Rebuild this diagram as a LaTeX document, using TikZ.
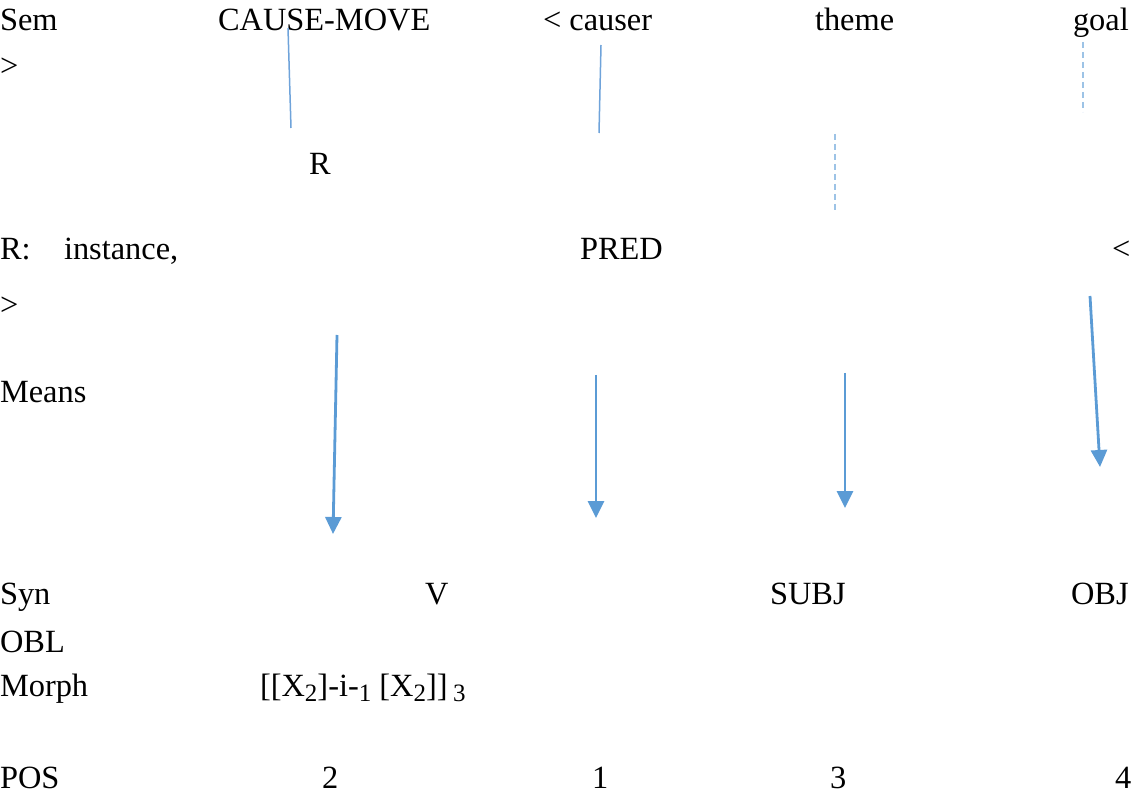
\documentclass[tikz,border=0pt]{standalone}
\usepackage{fontspec}
\setmainfont{Liberation Serif}
\usetikzlibrary{arrows.meta}
\definecolor{linkblue}{HTML}{5B9BD5}
\definecolor{thinblue}{HTML}{6FA3DA}
\definecolor{dashblue}{HTML}{9DC3E6}
\newcommand{\lowidx}[1]{\raisebox{-0.35ex}{\fontsize{12.5pt}{12.5pt}\selectfont #1}}
\begin{document}
\begin{tikzpicture}[x=0.5pt,y=-0.5pt,
  lbl/.style={anchor=base west,inner sep=0pt,outer sep=0pt,font=\fontsize{16.2pt}{19pt}\selectfont},
  thinlink/.style={draw=thinblue,line width=0.75pt},
  dashlink/.style={draw=dashblue,line width=0.9pt,dash pattern=on 3pt off 2pt},
  maparrow/.style={draw=linkblue,line width=1.4pt,-{Triangle[width=8pt,length=8.5pt]}}]
\useasboundingbox (0,0) rectangle (1140,812);

% Sem row
\node[lbl] (sem) at (0,31) {Sem};
\node[lbl] (cm) at (218,31) {CAUSE-MOVE};
\node[lbl] (causer) at (543,31) {< causer};
\node[lbl] (theme) at (815,31) {theme};
\node[lbl] (goal) at (1073,31) {goal};
\node[lbl] (gt1) at (0,77) {>};
\node[lbl] (rr) at (309,175) {R};

% R row
\node[lbl] (rlab) at (0,260) {R:};
\node[lbl] (inst) at (64,260) {instance,};
\node[lbl] (pred) at (580,260) {PRED};
\node[lbl] (lt2) at (1112,260) {<};
\node[lbl] (gt2) at (0,316) {>};
\node[lbl] (means) at (0,402) {Means};

% Syn row
\node[lbl] (syn) at (0,604) {Syn};
\node[lbl] (v) at (425,604) {V};
\node[lbl] (subj) at (770,604) {SUBJ};
\node[lbl] (obj) at (1071,604) {OBJ};
\node[lbl] (obl) at (0,652) {OBL};

% Morph row
\node[lbl] (morph) at (0,696) {Morph};
\node[lbl] (form) at (260,696) {[[X\lowidx{2}]-i-\lowidx{1} [X\lowidx{2}]]\,\lowidx{3}};

% POS row
\node[lbl] (pos) at (0,788) {POS};
\node[lbl] (p2) at (322,788) {2};
\node[lbl] (p1) at (592,788) {1};
\node[lbl] (p3) at (830,788) {3};
\node[lbl] (p4) at (1115,788) {4};

% link end points
\coordinate (a1) at (288,28);   \coordinate (b1) at (291,128);
\coordinate (a2) at (601,45);   \coordinate (b2) at (599,133);
\coordinate (a3) at (1083,42);  \coordinate (b3) at (1083,112);
\coordinate (a4) at (835,134);  \coordinate (b4) at (835,213);
\coordinate (m1) at (337,335);  \coordinate (n1) at (333,534);
\coordinate (m2) at (596,375);  \coordinate (n2) at (596,518);
\coordinate (m3) at (845,373);  \coordinate (n3) at (845,508);
\coordinate (m4) at (1090,296); \coordinate (n4) at (1100,467);

% fusion links
\draw[thinlink] (a1) -- (b1);
\draw[thinlink] (a2) -- (b2);
\draw[dashlink] (a3) -- (b3);
\draw[dashlink] (a4) -- (b4);

% mapping arrows
\draw[maparrow] (m1) -- (n1);
\draw[maparrow] (m2) -- (n2);
\draw[maparrow] (m3) -- (n3);
\draw[maparrow] (m4) -- (n4);
\end{tikzpicture}
\end{document}
